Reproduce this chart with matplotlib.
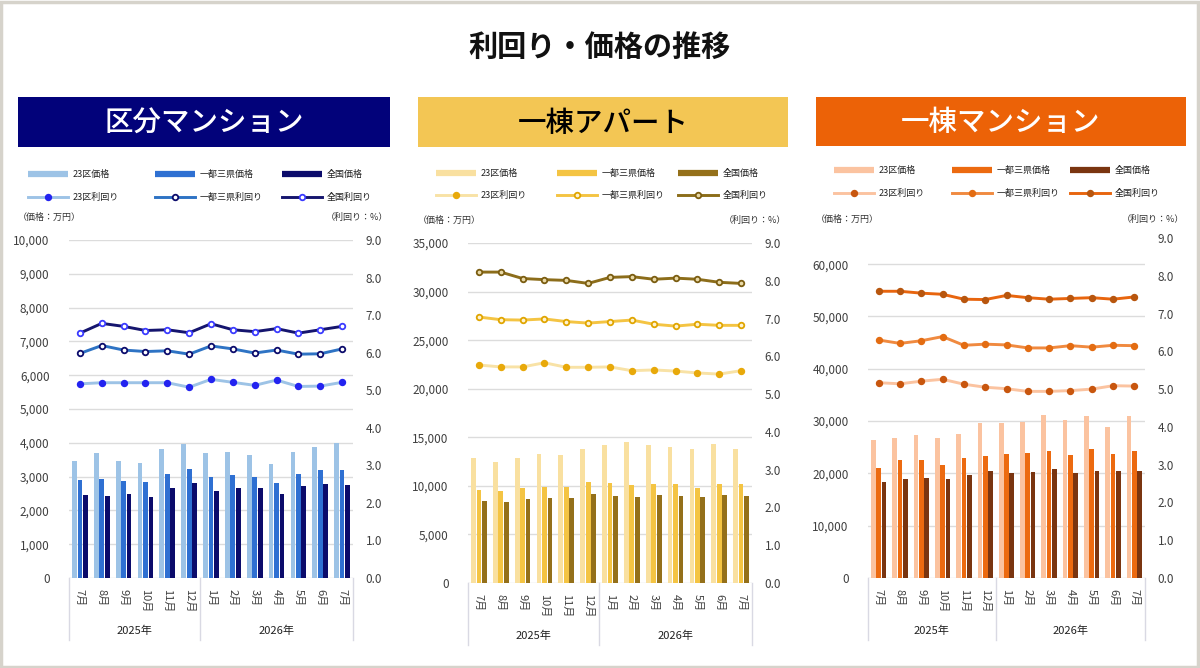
import matplotlib
matplotlib.use("Agg")
import matplotlib.pyplot as plt
from matplotlib.lines import Line2D
from matplotlib.patches import Rectangle
from matplotlib.ticker import FuncFormatter, MultipleLocator
import matplotlib.transforms as mtransforms
import numpy as np

plt.rcParams['font.family'] = ['Noto Sans CJK JP', 'DejaVu Sans']

W, H = 1200, 668

months = ['7月', '8月', '9月', '10月', '11月', '12月', '1月', '2月', '3月', '4月', '5月', '6月', '7月']
years = ['2025年', '2026年']
year_spans = [(0, 6), (6, 13)]

series_names = ['23区', '一都三県', '全国']

# 区分マンション
kubun_price_23 = [3460, 3710, 3460, 3400, 3820, 3970, 3690, 3740, 3640, 3380, 3740, 3880, 4000]
kubun_price_shuto = [2900, 2920, 2870, 2840, 3080, 3220, 2980, 3040, 2980, 2820, 3080, 3190, 3210]
kubun_price_zenkoku = [2450, 2430, 2480, 2410, 2670, 2810, 2570, 2670, 2650, 2480, 2710, 2780, 2760]
kubun_yield_23 = [5.17, 5.20, 5.20, 5.20, 5.20, 5.08, 5.29, 5.21, 5.13, 5.27, 5.10, 5.11, 5.21]
kubun_yield_shuto = [5.98, 6.19, 6.07, 6.03, 6.05, 5.96, 6.18, 6.10, 5.99, 6.07, 5.96, 5.97, 6.10]
kubun_yield_zenkoku = [6.52, 6.78, 6.70, 6.59, 6.61, 6.53, 6.77, 6.61, 6.56, 6.64, 6.52, 6.61, 6.70]

# 一棟アパート
apart_price_23 = [12910, 12500, 12910, 13290, 13150, 13840, 14180, 14490, 14180, 14040, 13840, 14280, 13840]
apart_price_shuto = [9560, 9520, 9760, 9860, 9930, 10380, 10270, 10070, 10170, 10170, 9830, 10170, 10170]
apart_price_zenkoku = [8430, 8320, 8630, 8800, 8800, 9180, 8970, 8870, 9040, 8940, 8840, 9040, 8940]
apart_yield_23 = [5.77, 5.72, 5.72, 5.83, 5.71, 5.71, 5.72, 5.62, 5.64, 5.61, 5.56, 5.53, 5.62]
apart_yield_shuto = [7.04, 6.97, 6.96, 6.99, 6.92, 6.88, 6.92, 6.96, 6.85, 6.80, 6.85, 6.82, 6.82]
apart_yield_zenkoku = [8.23, 8.23, 8.06, 8.03, 8.01, 7.93, 8.09, 8.11, 8.04, 8.07, 8.04, 7.96, 7.93]

# 一棟マンション
mansion_price_23 = [26310, 26820, 27260, 26820, 27450, 29620, 29620, 29870, 31210, 30130, 30890, 28920, 31020]
mansion_price_shuto = [21080, 22550, 22480, 21530, 22990, 23380, 23630, 23890, 24330, 23500, 24590, 23630, 24200]
mansion_price_zenkoku = [18340, 18850, 19110, 18980, 19620, 20510, 20000, 20190, 20760, 20130, 20380, 20510, 20510]
mansion_yield_23 = [5.17, 5.14, 5.21, 5.26, 5.13, 5.05, 5.01, 4.94, 4.94, 4.96, 5.00, 5.09, 5.08]
mansion_yield_shuto = [6.30, 6.21, 6.28, 6.39, 6.16, 6.19, 6.17, 6.09, 6.09, 6.15, 6.11, 6.16, 6.15]
mansion_yield_zenkoku = [7.59, 7.59, 7.54, 7.51, 7.38, 7.37, 7.48, 7.42, 7.38, 7.40, 7.42, 7.38, 7.44]

panels = [
    dict(title='区分マンション', banner=(18, 97, 390, 147), bcolor='#02027a', tcolor='white',
         box=(69, 240, 353, 578), ymax=10000, ystep=1000,
         prices=[kubun_price_23, kubun_price_shuto, kubun_price_zenkoku],
         yields=[kubun_yield_23, kubun_yield_shuto, kubun_yield_zenkoku],
         bar_colors=['#9dc3e6', '#2f70d2', '#0b0b6b'],
         line_colors=['#9dc3e6', '#2e73c4', '#15156e'],
         mk_face=['#2323f0', 'white', 'white'],
         mk_edge=['#2323f0', '#0b0b6b', '#3a3aff'],
         leg=(28, 127, 174, 197), lab_y=217),
    dict(title='一棟アパート', banner=(418, 97, 788, 147), bcolor='#f3c654', tcolor='black',
         box=(468, 243, 752, 583), ymax=35000, ystep=5000,
         prices=[apart_price_23, apart_price_shuto, apart_price_zenkoku],
         yields=[apart_yield_23, apart_yield_shuto, apart_yield_zenkoku],
         bar_colors=['#f9e0a0', '#f4c443', '#94701a'],
         line_colors=['#f8e2a6', '#f4c443', '#8c6d1a'],
         mk_face=['#e8a90a', '#fff3d0', '#e9d9a6'],
         mk_edge=['#e8a90a', '#e0a500', '#7a5c10'],
         leg=(436, 121, 173, 195), lab_y=220),
    dict(title='一棟マンション', banner=(816, 97, 1186, 146), bcolor='#ec6207', tcolor='white',
         box=(868, 238, 1145, 578), ymax=65000, ystep=10000,
         prices=[mansion_price_23, mansion_price_shuto, mansion_price_zenkoku],
         yields=[mansion_yield_23, mansion_yield_shuto, mansion_yield_zenkoku],
         bar_colors=['#fbc3a0', '#ec6a10', '#7a3510'],
         line_colors=['#fbc3a0', '#f08a40', '#e8650e'],
         mk_face=['#c8560e', '#e36c12', '#b8560e'],
         mk_edge=['#c8560e', '#e36c12', '#b8560e'],
         leg=(834, 118, 170, 193), lab_y=219),
]


def fx(x):
    return x / W


def fy(y):
    return 1 - y / H


fig = plt.figure(figsize=(12, 6.68), dpi=100)
fig.patch.set_facecolor('white')

# outer frame
fig.add_artist(Rectangle((0.001, 0.002), 0.997, 0.995, transform=fig.transFigure,
                         fill=False, edgecolor='#d6d3cb', lw=2.5))

fig.text(0.5, fy(47), '利回り・価格の推移', ha='center', va='center',
         fontsize=21, fontweight='bold', color='#111111')

x = np.arange(len(months))
offsets = [-0.25, 0, 0.25]
tick_col = '#404040'
lw_line = 2.1
ms_mark = 4.0

for p in panels:
    bx0, by0, bx1, by1 = p['banner']
    fig.add_artist(Rectangle((fx(bx0), fy(by1)), fx(bx1 - bx0), (by1 - by0) / H,
                             transform=fig.transFigure, color=p['bcolor'], lw=0))
    fig.text(fx((bx0 + bx1) / 2), fy((by0 + by1) / 2 + 1), p['title'], ha='center', va='center',
             fontsize=20.5, color=p['tcolor'], fontweight='medium')

    x0, y0, x1, y1 = p['box']
    ax = fig.add_axes([fx(x0), fy(y1), fx(x1 - x0), (y1 - y0) / H])
    ax2 = ax.twinx()

    for k in range(3):
        ax.bar(x + offsets[k], p['prices'][k], width=0.22, color=p['bar_colors'][k], zorder=2)
        ax2.plot(x, p['yields'][k], color=p['line_colors'][k], lw=lw_line,
                 marker='o', ms=ms_mark, mfc=p['mk_face'][k], mec=p['mk_edge'][k], mew=1.3, zorder=3)

    ax.set_xlim(-0.5, len(months) - 0.5)
    ax.set_ylim(0, p['ymax'])
    ax.yaxis.set_major_locator(MultipleLocator(p['ystep']))
    ax.yaxis.set_major_formatter(FuncFormatter(lambda v, pos: f'{v:,.0f}'))
    ax2.set_ylim(0, 9)
    ax2.yaxis.set_major_locator(MultipleLocator(1))
    ax2.yaxis.set_major_formatter(FuncFormatter(lambda v, pos: f'{v:.1f}'))

    ax.grid(axis='y', color='#dcdcdc', lw=1, zorder=0)
    ax.set_axisbelow(True)
    for a in (ax, ax2):
        for s in a.spines.values():
            s.set_visible(False)
    ax.tick_params(axis='y', length=0, pad=14, labelsize=8.5, labelcolor=tick_col)
    ax2.tick_params(axis='y', length=0, pad=9, labelsize=8.5, labelcolor=tick_col)
    ax.set_xticks(x)
    ax.set_xticklabels(months, rotation=270, fontsize=8, color=tick_col)
    ax.tick_params(axis='x', length=0, pad=8)

    trans = mtransforms.blended_transform_factory(ax.transData, ax.transAxes)
    ybot = -62 / (y1 - y0)
    for sep in [-0.5, 5.5, len(months) - 0.5]:
        ax.plot([sep, sep], [0, ybot], transform=trans, color='#d9d9e3', lw=1, clip_on=False)
    for label, (a, b) in zip(years, year_spans):
        ax.text((a + b - 1) / 2, -53 / (y1 - y0), label, transform=trans, ha='center', va='center',
                fontsize=8, color='#222222')

    # axis unit labels
    fig.text(fx(bx0), fy(p['lab_y']), '（価格：万円）', ha='left', va='center', fontsize=6.5, color='#333333')
    fig.text(fx(bx1 - 2), fy(p['lab_y']), '（利回り：%）', ha='right', va='center', fontsize=6.5, color='#333333')

    # legend
    lx0, lstep, ry1, ry2 = p['leg']
    for k in range(3):
        hx = lx0 + k * lstep
        fig.add_artist(Line2D([fx(hx), fx(hx + 40)], [fy(ry1), fy(ry1)], transform=fig.transFigure,
                              color=p['bar_colors'][k], lw=4.5, solid_capstyle='butt'))
        fig.text(fx(hx + 45), fy(ry1), series_names[k] + '価格', ha='left', va='center',
                 fontsize=6.5, color='#222222')
        fig.add_artist(Line2D([fx(hx), fx(hx + 40)], [fy(ry2), fy(ry2)], transform=fig.transFigure,
                              color=p['line_colors'][k], lw=lw_line))
        fig.add_artist(Line2D([fx(hx + 20)], [fy(ry2)], transform=fig.transFigure, lw=0,
                              marker='o', ms=ms_mark, mfc=p['mk_face'][k], mec=p['mk_edge'][k], mew=1.3))
        fig.text(fx(hx + 45), fy(ry2), series_names[k] + '利回り', ha='left', va='center',
                 fontsize=6.5, color='#222222')

fig.savefig('out.png', dpi=100, facecolor='white')
